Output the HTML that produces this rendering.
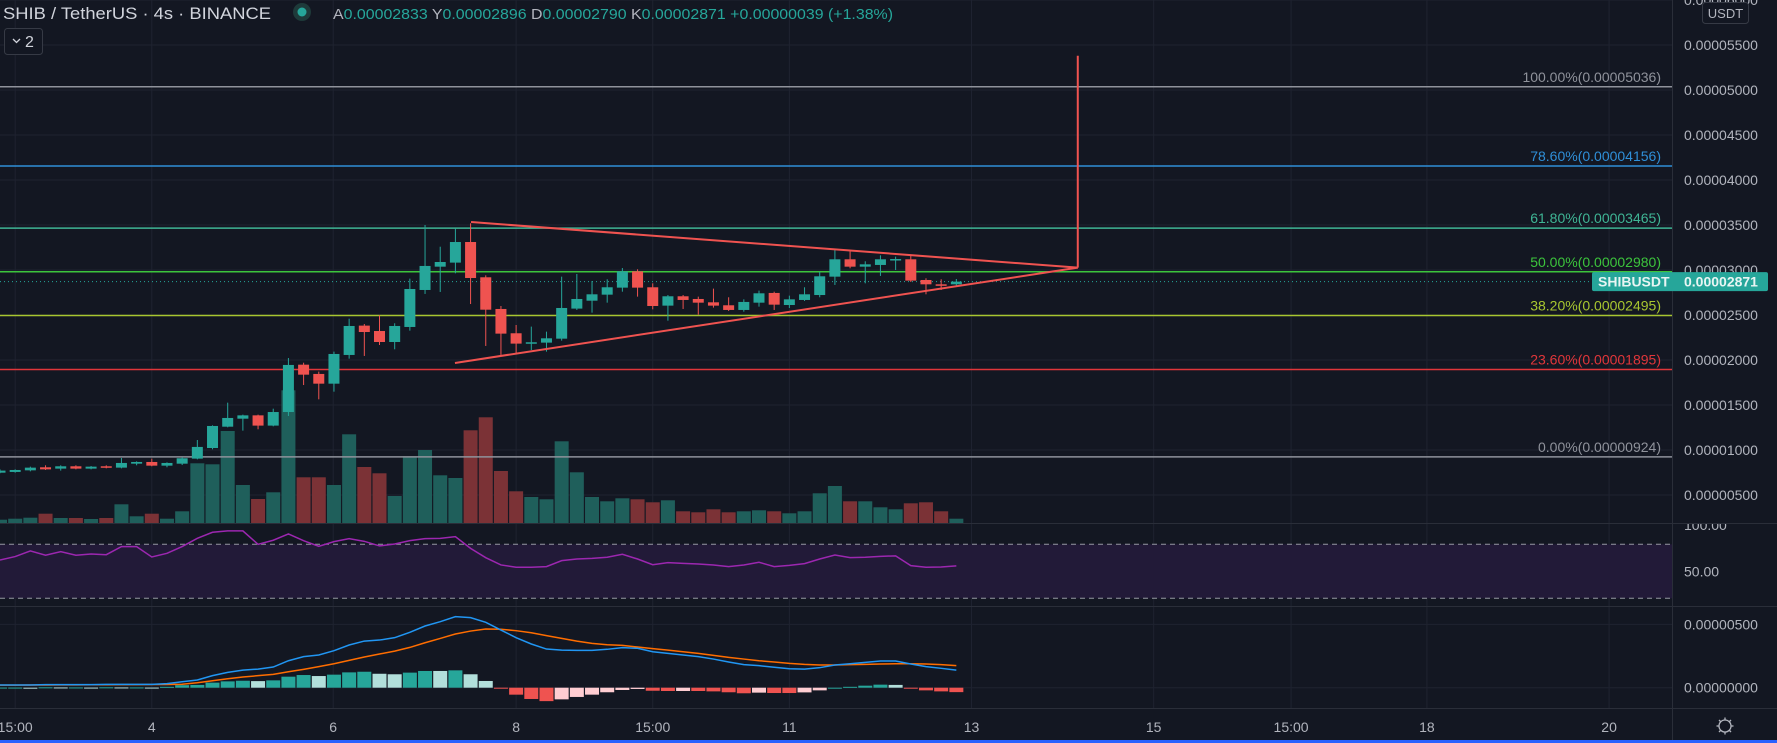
<!DOCTYPE html>
<html><head><meta charset="utf-8">
<style>
html,body{margin:0;padding:0;background:#131722;}
svg{display:block;font-family:"Liberation Sans",sans-serif;}
</style></head>
<body>
<svg id="chart" width="1777" height="743" viewBox="0 0 1777 743" xmlns="http://www.w3.org/2000/svg">
<rect x="0" y="0" width="1777" height="743" fill="#131722"/>
<g id="grid"></g>
<g id="rsiband"></g>
<g id="volume"></g>
<g id="fib"></g>
<g id="candles"></g>
<g id="drawings"></g>
<g id="rsi"></g>
<g id="macd"></g>
<g id="axes"></g>

<text x="3" y="19" font-size="17" fill="#d1d4dc" textLength="268" lengthAdjust="spacingAndGlyphs">SHIB / TetherUS · 4s · BINANCE</text>
<circle cx="302" cy="12" r="9" fill="#1e3a3a"/>
<circle cx="302" cy="12" r="4.5" fill="#26a69a"/>
<text x="333" y="19" font-size="15" fill="#26a69a" textLength="560" lengthAdjust="spacingAndGlyphs"><tspan fill="#b2b5be">A</tspan>0.00002833 <tspan fill="#b2b5be">Y</tspan>0.00002896 <tspan fill="#b2b5be">D</tspan>0.00002790 <tspan fill="#b2b5be">K</tspan>0.00002871 +0.00000039 (+1.38%)</text>
<rect x="4.5" y="28.5" width="38" height="26" rx="3" fill="#131722" stroke="#363a45"/>
<path d="M13 39 l3.5 3.5 l3.5 -3.5" fill="none" stroke="#d1d4dc" stroke-width="1.3"/>
<text x="25" y="47" font-size="16" fill="#d1d4dc">2</text>

<rect x="1702.5" y="2.5" width="46" height="21" rx="3" fill="#131722" stroke="#363a45"/>
<text x="1725.5" y="18" font-size="13" fill="#b2b5be" text-anchor="middle">USDT</text>
</svg>
<script>
// ===== DATA (prices in units of 1e-6 USDT) =====
const opens  = [7.48,7.56,7.74,8.08,7.93,8.19,7.93,8.19,8.04,8.48,8.67,8.26,8.48,9.04,10.22,12.59,13.48,13.85,12.71,14.22,19.48,18.45,17.37,20.56,23.82,23.22,22.0,23.67,27.78,30.37,30.82,33.11,29.19,25.67,22.97,21.82,21.93,22.37,25.71,26.59,27.26,28.04,29.85,28.08,26.04,27.08,26.78,26.41,26.08,25.56,26.37,27.45,26.11,26.67,27.22,29.26,31.19,30.37,30.56,31.11,31.19,28.89,28.41,28.41];
const closes = [7.71,7.78,8.04,7.85,8.19,7.93,8.15,8.04,8.56,8.67,8.26,8.56,9.08,10.34,12.67,13.56,13.85,12.71,14.22,19.45,18.37,17.37,20.67,23.78,23.11,22.0,23.78,27.89,30.45,30.89,33.11,29.11,25.59,22.93,21.82,21.97,22.41,25.78,26.78,27.30,28.08,29.85,28.04,26.0,27.08,26.67,26.37,26.04,25.56,26.45,27.41,26.15,26.74,27.30,29.30,31.19,30.37,30.63,31.19,31.22,28.82,28.41,28.26,28.71];
const highs  = [7.85,7.85,8.15,8.30,8.30,8.30,8.22,8.30,9.11,8.74,9.04,8.63,9.19,11.11,12.74,15.26,13.93,13.93,14.59,20.22,19.70,18.71,20.93,24.59,24.0,24.97,24.08,29.04,35.0,32.59,34.59,35.19,29.41,26.0,23.89,23.71,23.15,29.26,29.56,28.78,28.97,30.22,30.08,28.52,27.22,27.22,27.04,27.93,26.97,26.74,27.71,27.59,27.15,28.08,29.78,32.22,32.22,30.97,31.63,31.48,31.67,29.08,28.97,29.0];
const lows   = [7.41,7.48,7.63,7.78,7.71,7.85,7.85,7.96,7.96,8.30,8.19,8.08,8.33,8.96,10.08,12.52,12.15,12.30,12.63,13.78,17.22,15.63,16.48,20.15,20.45,21.67,21.19,23.26,27.34,27.56,29.63,26.22,21.56,20.56,20.74,21.11,20.93,22.15,25.56,25.26,26.37,27.59,27.04,25.63,24.37,25.67,25.04,25.82,25.45,25.37,25.93,25.56,25.78,26.56,26.97,28.34,30.19,28.52,29.34,30.0,28.67,27.30,27.78,28.22];
const volumes = [3.3,4.3,5.3,9.3,5,5,4,5,18.7,6.7,9.3,4.3,11.7,59.7,58.7,92,38,24,30.7,132.7,45.7,45.7,38,88.7,56,49.7,27,66.7,73,47.7,45,92.7,105.7,52,31.7,26,23.7,81.7,50.7,26,21.7,24.7,23.7,20.7,22.7,11.7,10.7,13.7,10.7,11.7,12.7,11.7,9.7,11.7,29.7,37,21.7,21.7,15.7,13.7,19.7,20.7,11.7,4.3];
const rsiValues = [58.4,60.9,65.1,61.9,64.6,61.9,62.8,62.3,68.3,68.3,60.6,63.3,68.3,74.4,78.9,79.9,79.9,70,73,77.7,72.7,68.5,72,74.2,72.2,68.8,70.2,72.7,74.2,74.4,75.7,67,60.1,54.7,53,53,53.5,57.9,59.1,59.6,60.4,62.6,59.1,54.9,56.4,55.9,55.4,54.7,53.5,54.7,56.7,53.5,54.4,55.7,59.1,62.1,60.1,60.4,61.1,61.4,54.2,53,53.2,54];
const macdValues = [0.21,0.21,0.21,0.24,0.24,0.24,0.24,0.26,0.26,0.26,0.26,0.32,0.47,0.61,0.95,1.21,1.39,1.47,1.63,2.13,2.45,2.58,2.92,3.37,3.68,3.76,3.95,4.37,4.87,5.21,5.61,5.53,5.16,4.55,3.95,3.45,3.05,2.97,2.95,2.95,3.03,3.16,3.11,2.84,2.71,2.58,2.45,2.26,2.03,1.82,1.74,1.61,1.50,1.47,1.58,1.79,1.89,2.0,2.11,2.11,1.87,1.66,1.53,1.39];
const signalValues = [0.2,0.2,0.21,0.21,0.22,0.22,0.23,0.23,0.24,0.24,0.25,0.25,0.27,0.39,0.55,0.71,0.84,0.95,1.05,1.26,1.45,1.66,1.89,2.16,2.42,2.66,2.89,3.18,3.55,3.89,4.24,4.47,4.63,4.61,4.5,4.34,4.11,3.89,3.68,3.5,3.39,3.34,3.21,3.08,2.97,2.84,2.71,2.55,2.39,2.26,2.13,2.03,1.92,1.84,1.79,1.79,1.82,1.84,1.87,1.89,1.89,1.87,1.82,1.74];
const fibLabels = ["100.00%","78.60%","61.80%","50.00%","38.20%","23.60%","0.00%"];
const fibPrices = [50.36,41.56,34.65,29.80,24.95,18.95,9.24];
const fibColors = ["#8f929b","#2f8fd8","#3fb595","#3cc43c","#a8c630","#e0363a","#8f929b"];
const lastPrice = 28.71;
const priceTicks = [5,10,15,20,25,30,35,40,45,50,55,60];
const rsiTicks = [100,50];
const macdTicks = [5,0];
const timeLabels = ["15:00","4","6","8","15:00","11","13","15","15:00","18","20"];
const timeIdx = [1.0,10.0,21.95,34.0,43.0,52.0,64.0,76.0,85.05,94.0,106.0];
const triUpper = [[31.03,35.33],[71.0,30.26]];
const triLower = [[29.97,19.67],[71.0,30.26]];
const vLine = [[71.0,30.26],[71.0,53.81]];

// ===== SCALES =====
const PLOT_R = 1672;
const xOf = i => i*15.18;
const yP = p => 90 + (50 - p)*9;
const yVol = v => 523 - v*1.0;
const yRsi = v => 544.3 + (70 - v)*1.35;
const yMacd = v => 687.7 - v*12.67;
const NS = "http://www.w3.org/2000/svg";
function mk(tag, parent, attrs){const e=document.createElementNS(NS,tag);for(const k in attrs)e.setAttribute(k,attrs[k]);parent.appendChild(e);return e;}
const G = id => document.getElementById(id);
const UP="#26a69a", DN="#ef5350";

const grid=G('grid');
priceTicks.forEach(t=>{const l=mk('line',grid,{x1:0,x2:PLOT_R,y1:yP(t),y2:yP(t),stroke:'#1f2330','stroke-width':1});

});
[yRsi(50),yMacd(5),yMacd(0)].forEach(y=>{const l=mk('line',grid,{x1:0,x2:PLOT_R,y1:y,y2:y,stroke:'#1f2330'});

});
timeIdx.forEach(i=>{const l=mk('line',grid,{x1:xOf(i),x2:xOf(i),y1:0,y2:708,stroke:'#1f2330'});

});
[523,606,708].forEach(y=>{const l=mk('line',grid,{x1:0,x2:1777,y1:y+0.5,y2:y+0.5,stroke:'#2a2e39'});

});
const vs=mk('line',grid,{x1:PLOT_R+0.5,x2:PLOT_R+0.5,y1:0,y2:740,stroke:'#2a2e39'});



const rb=G('rsiband');
const band=mk('rect',rb,{x:0,y:yRsi(70),width:PLOT_R,height:yRsi(30)-yRsi(70),fill:'#221a38'});


[70,30].forEach(v=>{const l=mk('line',rb,{x1:0,x2:PLOT_R,y1:yRsi(v),y2:yRsi(v),stroke:'#9598a1','stroke-dasharray':'5,4'});

});

const vg=G('volume');
volumes.forEach((v,i)=>{const up=closes[i]>=opens[i];
const r=mk('rect',vg,{x:xOf(i)-7,y:yVol(v),width:14,height:523-yVol(v),fill:up?'#1f5f5b':'#7b3236'});

});

const fg=G('fib');
fibPrices.forEach((p,k)=>{const y=yP(p);
const l=mk('line',fg,{x1:0,x2:PLOT_R,y1:y,y2:y,stroke:fibColors[k],'stroke-width':1.5});


const t=mk('text',fg,{x:1661,y:y-5,'font-size':14,fill:fibColors[k],'text-anchor':'end'});
t.textContent=fibLabels[k]+'('+(p/1e6).toFixed(8)+')';

});

const lp=mk('line',fg,{x1:0,x2:1592,y1:yP(lastPrice),y2:yP(lastPrice),stroke:'#26a69a','stroke-dasharray':'1,3'});



const cg=G('candles');
opens.forEach((o,i)=>{const c=closes[i];const up=c>=o;const col=up?UP:DN;const x=xOf(i);
const w=mk('line',cg,{x1:x,x2:x,y1:yP(highs[i]),y2:yP(lows[i]),stroke:col,'stroke-width':1});


const top=yP(Math.max(o,c)),bot=yP(Math.min(o,c));
const b=mk('rect',cg,{x:x-5.5,y:top,width:11,height:Math.max(1.5,bot-top),fill:col});

});

const dg=G('drawings');
[triUpper,triLower,vLine].forEach((seg,k)=>{const l=mk('line',dg,{x1:xOf(seg[0][0]),y1:yP(seg[0][1]),x2:xOf(seg[1][0]),y2:yP(seg[1][1]),stroke:'#f05350','stroke-width':2});

});

const rg=G('rsi');
const rp=mk('polyline',rg,{points:rsiValues.map((v,i)=>xOf(i)+','+yRsi(v)).join(' '),fill:'none',stroke:'#9c27b0','stroke-width':1.5});



const mg=G('macd');
macdValues.forEach((m,i)=>{const h=m-signalValues[i];const prev=i>0?macdValues[i-1]-signalValues[i-1]:0;
let col;if(h>=0)col=h>=prev?UP:'#b2dfdb';else col=h<=prev?DN:'#ffcdd2';
const y1=yMacd(Math.max(h,0)),y2=yMacd(Math.min(h,0));
const r=mk('rect',mg,{x:xOf(i)-7,y:y1,width:14,height:Math.max(1,y2-y1),fill:col});

});
const sl=mk('polyline',mg,{points:signalValues.map((v,i)=>xOf(i)+','+yMacd(v)).join(' '),fill:'none',stroke:'#ff6d00','stroke-width':1.5});


const ml=mk('polyline',mg,{points:macdValues.map((v,i)=>xOf(i)+','+yMacd(v)).join(' '),fill:'none',stroke:'#2196f3','stroke-width':1.5});



const ag=G('axes');
const clipMain=mk('clipPath',ag,{id:'cm'});mk('rect',clipMain,{x:1673,y:0,width:104,height:523});
const clipRsi=mk('clipPath',ag,{id:'cr'});mk('rect',clipRsi,{x:1673,y:524,width:104,height:82});
const axMain=mk('g',ag,{'clip-path':'url(#cm)'});
priceTicks.forEach(t=>{const e=mk('text',axMain,{x:1684,y:yP(t)+5,'font-size':14,fill:'#b2b5be'});
e.textContent=(t/1e6).toFixed(8);

});
const axR=mk('g',ag,{'clip-path':'url(#cr)'});
rsiTicks.forEach(t=>{const e=mk('text',axR,{x:1684,y:(t===100?530:yRsi(t)+5),'font-size':14,fill:'#b2b5be'});
e.textContent=t.toFixed(2);

});
macdTicks.forEach(t=>{const e=mk('text',ag,{x:1684,y:yMacd(t)+5,'font-size':14,fill:'#b2b5be'});
e.textContent=(t/1e6).toFixed(8);

});
timeLabels.forEach((s,k)=>{const e=mk('text',ag,{x:xOf(timeIdx[k]),y:732,'font-size':14,fill:'#b2b5be','text-anchor':'middle'});
e.textContent=s;

});
const yl=yP(lastPrice);
const b1=mk('rect',ag,{x:1592,y:yl-9.5,width:176,height:19,rx:2,fill:'#26a69a'});


const t1=mk('text',ag,{x:1598,y:yl+5,'font-size':14,'font-weight':'bold',fill:'#e8f5f3'});t1.textContent='SHIBUSDT';


const t2=mk('text',ag,{x:1684,y:yl+5,'font-size':14,'font-weight':'bold',fill:'#e8f5f3'});t2.textContent=(lastPrice/1e6).toFixed(8);


const bb=mk('rect',ag,{x:0,y:740,width:1777,height:3,fill:'#2962ff'});


const gear=mk('g',ag,{});


mk('circle',gear,{cx:1725,cy:726,r:6,fill:'none',stroke:'#b2b5be','stroke-width':1.3});
for(let a=0;a<8;a++){const r=a*Math.PI/4;mk('line',gear,{x1:1725+Math.cos(r)*6,y1:726+Math.sin(r)*6,x2:1725+Math.cos(r)*8.5,y2:726+Math.sin(r)*8.5,stroke:'#b2b5be','stroke-width':1.3});}
</script>
</body></html>
